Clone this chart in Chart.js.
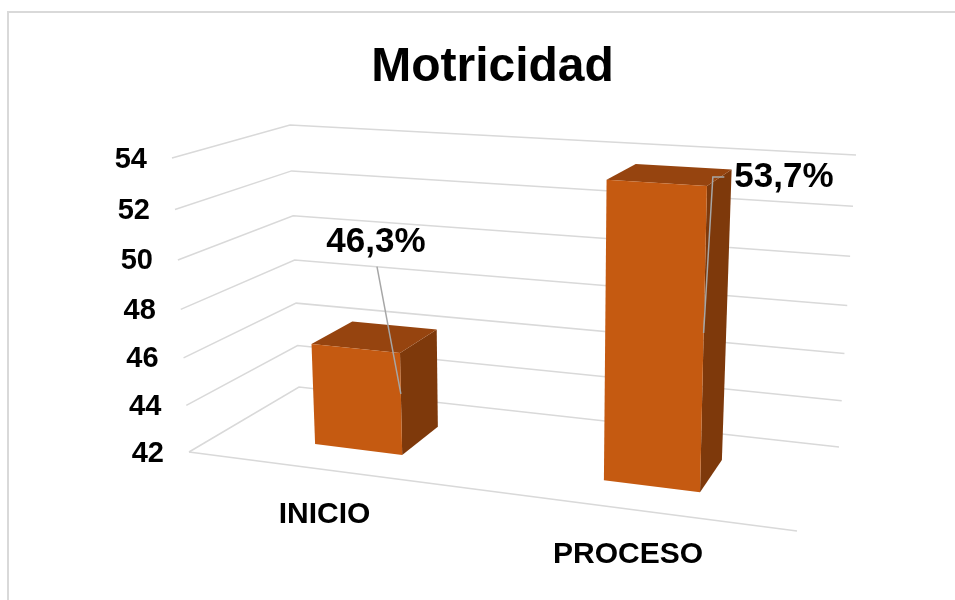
<!DOCTYPE html>
<html>
<head>
<meta charset="utf-8">
<title>Motricidad</title>
<script src="https://cdn.jsdelivr.net/npm/chart.js@4.4.1/dist/chart.umd.min.js"></script>
<style>
    html, body { margin: 0; padding: 0; background: #fff; }
    #wrap { width: 955px; height: 600px; }
</style>
</head>
<body>
<div id="wrap"><canvas id="chart" width="955" height="600"></canvas></div>
<script>
// Chart data
const categories = ['INICIO', 'PROCESO'];
const values = [46.3, 53.7];
const yMin = 42;
const yMax = 54;
const yStep = 2;

// Screen corners of the 3D plot box (x across, y value, z depth)
const box = {
    p000: [189, 452], p100: [797, 531],
    p010: [172, 158], p110: [807, 197],
    p001: [299, 387], p101: [839, 447],
    p011: [290, 125], p111: [856, 155]
};
const PERSP_X = 1.1035;
const PERSP_Y = 1.062;
const DEPTH_FRONT = 0.3;
const DEPTH_BACK = 0.7;

const FONT = '"Liberation Sans", Arial, sans-serif';
const GRID_COLOR = '#d9d9d9';
const FACE_COLORS = { front: '#c55a11', top: '#96440f', side: '#7e390b' };

// where each data label sits, relative to the bar's front-top-right corner
const labelLayout = [
    { dx: -24, dy: -111, anchor: 'bottom', edge: 0.4 },
    { dx: 77, dy: -9, anchor: 'left', edge: 0.48 }
];

function lerp(a, b, t) {
    return [a[0] + (b[0] - a[0]) * t, a[1] + (b[1] - a[1]) * t];
}

function project(x, y, z) {
    const xw = x / (PERSP_X - (PERSP_X - 1) * x);
    const yw = y / (PERSP_Y - (PERSP_Y - 1) * y);
    const front = lerp(lerp(box.p000, box.p100, xw), lerp(box.p010, box.p110, xw), yw);
    const back = lerp(lerp(box.p001, box.p101, xw), lerp(box.p011, box.p111, xw), yw);
    return lerp(front, back, z);
}

function poly(ctx, pts, fill) {
    ctx.beginPath();
    ctx.moveTo(pts[0][0], pts[0][1]);
    pts.slice(1).forEach(p => ctx.lineTo(p[0], p[1]));
    ctx.closePath();
    ctx.fillStyle = fill;
    ctx.fill();
}

const box3d = {
    id: 'box3d',

    beforeDraw(chart) {
        const ctx = chart.ctx;
        const yScale = chart.scales.y;
        const yFrac = v => (yScale.bottom - yScale.getPixelForValue(v)) / (yScale.bottom - yScale.top);

        ctx.save();
        ctx.fillStyle = '#fff';
        ctx.fillRect(0, 0, chart.width, chart.height);

        // outer chart border
        ctx.strokeStyle = GRID_COLOR;
        ctx.lineWidth = 2;
        ctx.strokeRect(8, 12, chart.width + 50, chart.height + 50);

        // gridlines on the side wall and back wall
        ctx.lineWidth = 1.5;
        ctx.strokeStyle = GRID_COLOR;
        yScale.ticks.forEach(t => {
            const f = yFrac(t.value);
            const a = project(0, f, 0), b = project(0, f, 1), c = project(1, f, 1);
            ctx.beginPath();
            ctx.moveTo(a[0], a[1]);
            ctx.lineTo(b[0], b[1]);
            ctx.lineTo(c[0], c[1]);
            ctx.stroke();
        });

        // front edge of the floor
        const f0 = project(0, 0, 0), f1 = project(1, 0, 0);
        ctx.beginPath();
        ctx.moveTo(f0[0], f0[1]);
        ctx.lineTo(f1[0], f1[1]);
        ctx.stroke();

        // value axis labels, following the slanted front edge
        ctx.fillStyle = '#000';
        ctx.font = 'bold 29px ' + FONT;
        ctx.textAlign = 'right';
        ctx.textBaseline = 'middle';
        yScale.ticks.forEach(t => {
            const p = project(0, yFrac(t.value), 0);
            ctx.fillText(String(t.value), p[0] - 25, p[1] + 1.5);
        });
        ctx.restore();
    },

    afterDatasetsDraw(chart) {
        const ctx = chart.ctx;
        const ca = chart.chartArea;
        const yScale = chart.scales.y;
        const yFrac = v => (yScale.bottom - yScale.getPixelForValue(v)) / (yScale.bottom - yScale.top);
        const meta = chart.getDatasetMeta(0);
        const data = chart.data.datasets[0].data;
        const labels = chart.data.labels;

        ctx.save();
        meta.data.forEach((el, i) => {
            const { x, width } = el.getProps(['x', 'width'], true);
            const x0 = (x - width / 2 - ca.left) / ca.width;
            const x1 = (x + width / 2 - ca.left) / ca.width;
            const xc = (x - ca.left) / ca.width;
            const top = yFrac(data[i]);

            const fbl = project(x0, 0, DEPTH_FRONT), fbr = project(x1, 0, DEPTH_FRONT);
            const ftl = project(x0, top, DEPTH_FRONT), ftr = project(x1, top, DEPTH_FRONT);
            const bbr = project(x1, 0, DEPTH_BACK);
            const btl = project(x0, top, DEPTH_BACK), btr = project(x1, top, DEPTH_BACK);

            poly(ctx, [fbr, bbr, btr, ftr], FACE_COLORS.side);
            poly(ctx, [ftl, ftr, btr, btl], FACE_COLORS.top);
            poly(ctx, [fbl, fbr, ftr, ftl], FACE_COLORS.front);

            // category label under the floor edge
            const floor = project(xc, 0, 0);
            ctx.fillStyle = '#000';
            ctx.font = 'bold 30px ' + FONT;
            ctx.textAlign = 'center';
            ctx.textBaseline = 'middle';
            ctx.fillText(labels[i], floor[0] - 5.5, floor[1] + 44.5);

            // data label with leader line
            const lay = labelLayout[i];
            const text = data[i].toFixed(1).replace('.', ',') + '%';
            ctx.font = 'bold 35px ' + FONT;
            const tw = ctx.measureText(text).width;
            const cx = ftr[0] + lay.dx, cy = ftr[1] + lay.dy;
            const end = lerp(ftr, fbr, lay.edge);

            ctx.strokeStyle = '#a6a6a6';
            ctx.lineWidth = 1.5;
            ctx.beginPath();
            if (lay.anchor === 'bottom') {
                ctx.moveTo(cx + 1, cy + 24.5);
            } else {
                ctx.moveTo(cx - tw / 2 - 10, cy);
                ctx.lineTo(cx - tw / 2 - 21.5, cy);
            }
            ctx.lineTo(end[0], end[1]);
            ctx.stroke();

            ctx.fillStyle = '#000';
            ctx.fillText(text, cx, cy);
        });
        ctx.restore();
    }
};

const chart = new Chart(document.getElementById('chart'), {
    type: 'bar',
    data: {
        labels: categories,
        datasets: [{
            data: values,
            backgroundColor: 'rgba(0,0,0,0)',
            borderWidth: 0,
            categoryPercentage: 1,
            barPercentage: 0.312
        }]
    },
    options: {
        responsive: false,
        devicePixelRatio: 1,
        animation: false,
        layout: { padding: { left: 30, top: 0, right: 0, bottom: 0 } },
        plugins: {
            legend: { display: false },
            tooltip: { enabled: false },
            title: {
                display: true,
                text: 'Motricidad',
                color: '#000',
                font: { family: FONT, size: 48, weight: 'bold' },
                padding: { top: 39, bottom: 10 }
            }
        },
        scales: {
            x: { display: false, offset: true },
            y: {
                display: false,
                min: yMin,
                max: yMax,
                ticks: { stepSize: yStep }
            }
        }
    },
    plugins: [box3d]
});
</script>
</body>
</html>
